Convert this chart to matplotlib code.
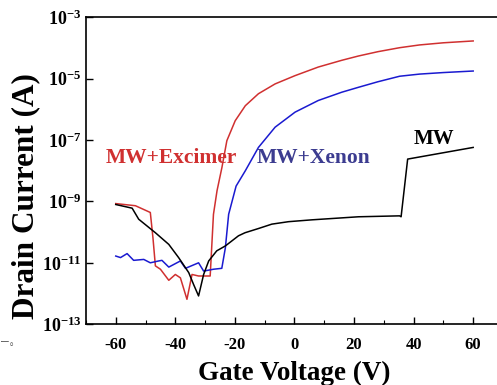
import numpy as np
import matplotlib
matplotlib.use("Agg")
from matplotlib import pyplot as plt
from matplotlib.ticker import FixedLocator, LogLocator, NullFormatter

# curves (gate voltage in V, log10 of drain current in A)
excimer_v = [-60, -53.4, -48.4, -47.5, -46.7, -45, -42.2, -40, -38.3, -36.1,
             -34.4, -32.2, -28.3, -27.2, -26, -24.35, -22.7, -19.9, -16.5,
             -12.1, -6.5, 0.2, 8, 15.9, 21.5, 28, 35.3, 42, 50, 60]
excimer_log = [-9.07, -9.14, -9.36, -10.2, -11.1, -11.21, -11.57, -11.38, -11.49,
               -12.19, -11.38, -11.43, -11.43, -9.42, -8.65, -7.89, -7.02, -6.37,
               -5.88, -5.49, -5.17, -4.9, -4.62, -4.4, -4.26, -4.12, -3.99,
               -3.9, -3.83, -3.77]

xenon_v = [-60, -58.4, -56.2, -54, -50.6, -48.4, -45.6, -44.5, -42.2, -38.3,
           -36.6, -32.2, -30.5, -27.2, -24.4, -23.2, -22.1, -19.6, -16.5,
           -12.1, -6.5, 0.2, 8, 15.9, 21.5, 28, 35.3, 42, 50, 60]
xenon_log = [-10.78, -10.83, -10.7, -10.92, -10.89, -11.0, -10.94, -10.92, -11.14,
             -10.94, -11.18, -11.0, -11.27, -11.21, -11.18, -10.51, -9.42, -8.5,
             -8.0, -7.24, -6.58, -6.09, -5.71, -5.44, -5.28, -5.1, -4.92,
             -4.85, -4.8, -4.75]

mw_v = [-60, -54.5, -52.3, -49.5, -46.7, -42.2, -38.9, -35.5, -33.9, -32.2,
        -30.5, -28.8, -26.1, -23.2, -18.8, -16.6, -12, -7.6, -2, 5.8, 21.5,
        35.3, 35.8, 38, 60]
mw_log = [-9.1, -9.22, -9.58, -9.8, -10.02, -10.4, -10.83, -11.32, -11.7, -12.08,
          -11.38, -10.94, -10.61, -10.45, -10.12, -10.02, -9.88, -9.74, -9.66,
          -9.6, -9.5, -9.47, -9.5, -7.62, -7.24]

x_ticks = [-60, -40, -20, 0, 20, 40, 60]
y_ticks = [1e-13, 1e-11, 1e-9, 1e-7, 1e-5, 1e-3]
y_labels = [r"$\mathbf{10^{-13}}$", r"$\mathbf{10^{-11}}$", r"$\mathbf{10^{-9}}$",
            r"$\mathbf{10^{-7}}$", r"$\mathbf{10^{-5}}$", r"$\mathbf{10^{-3}}$"]

plt.rcParams['font.family'] = ['Liberation Serif', 'DejaVu Serif']
plt.rcParams['mathtext.fontset'] = 'custom'
plt.rcParams['mathtext.rm'] = 'Liberation Serif'
plt.rcParams['mathtext.bf'] = 'Liberation Serif:bold'

fig = plt.figure(figsize=(4.97, 3.85), dpi=100)
ax = fig.add_axes([0.173, 0.158, 0.839, 0.797])

ax.plot(excimer_v, 10 ** np.array(excimer_log), color='#d03030', lw=1.1)
ax.plot(xenon_v, 10 ** np.array(xenon_log), color='#1a1ad0', lw=1.1)
ax.plot(mw_v, 10 ** np.array(mw_log), color='black', lw=1.1)

ax.set_yscale('log')
ax.set_xlim(-70, 70)
ax.set_ylim(1e-13, 1e-3)

ax.xaxis.set_major_locator(FixedLocator(x_ticks))
ax.xaxis.set_minor_locator(FixedLocator([-70, -50, -30, -10, 10, 30, 50]))
ax.set_xticklabels([str(t) for t in x_ticks], fontsize=12, fontweight='bold')
ax.yaxis.set_major_locator(FixedLocator(y_ticks))
ax.yaxis.set_minor_locator(LogLocator(base=10, subs=np.arange(1, 10)))
ax.yaxis.set_minor_formatter(NullFormatter())
ax.set_yticklabels(y_labels, fontsize=13)
ax.tick_params(which='both', direction='in', top=False, right=False)
ax.tick_params(which='major', length=5, width=1)
ax.tick_params(axis='x', which='major', pad=9)
ax.tick_params(which='minor', length=3, width=0.8)
for s in ax.spines.values():
    s.set_linewidth(1.2)

ax.set_xlabel('Gate Voltage (V)', fontsize=19.5, fontweight='bold', labelpad=6)
ax.set_ylabel('Drain Current (A)', fontsize=22.5, fontweight='bold')
ax.yaxis.set_label_coords(-0.11, 0.417)

ax.text(-63.4, 10 ** -7.58, 'MW+Excimer', color='#d03030', fontsize=15.5,
        fontweight='bold', va='center')
ax.text(-12.7, 10 ** -7.58, 'MW+Xenon', color='#3c3c90', fontsize=15.5,
        fontweight='bold', va='center')
ax.text(39.9, 10 ** -6.95, 'MW', color='black', fontsize=15,
        fontweight='bold', va='center')

fig.text(0.0, 0.105, 'ー。', fontsize=7, color='#555555',
         family=['Noto Sans CJK SC', 'DejaVu Sans'])

fig.savefig('out.png', dpi=100)
